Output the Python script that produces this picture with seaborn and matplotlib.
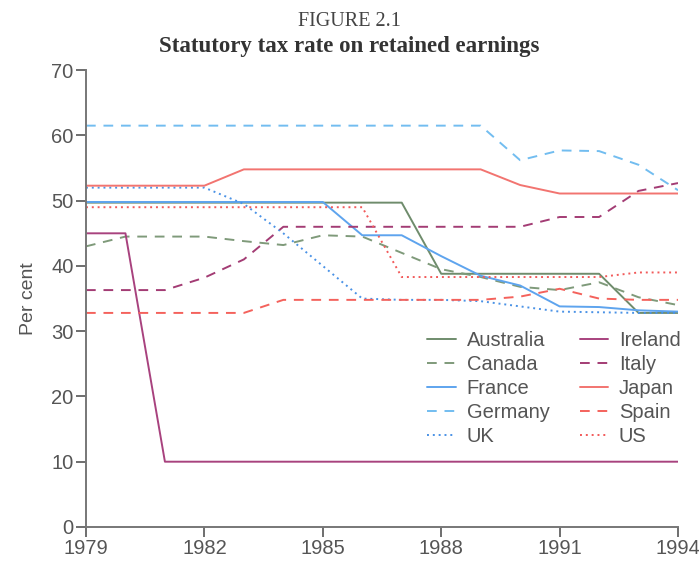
import matplotlib
matplotlib.use('Agg')
import matplotlib.pyplot as plt
import seaborn as sns
import pandas as pd

years = list(range(1979, 1995))

australia = [49.7, 49.7, 49.7, 49.7, 49.7, 49.7, 49.7, 49.7, 49.7, 38.8, 38.8, 38.8, 38.8, 38.8, 32.8, 32.8]
canada = [43.0, 44.5, 44.5, 44.5, 43.8, 43.2, 44.7, 44.5, 42.0, 39.5, 38.3, 36.8, 36.3, 37.5, 35.2, 34.0]
france = [49.8, 49.8, 49.8, 49.8, 49.8, 49.8, 49.8, 44.7, 44.7, 41.5, 38.5, 37.0, 33.8, 33.7, 33.2, 33.0]
germany = [61.5, 61.5, 61.5, 61.5, 61.5, 61.5, 61.5, 61.5, 61.5, 61.5, 61.5, 56.2, 57.7, 57.6, 55.5, 51.6]
uk = [52.0, 52.0, 52.0, 52.0, 49.5, 45.0, 40.0, 35.0, 34.8, 34.8, 34.6, 33.8, 33.0, 32.9, 32.8, 32.8]
ireland = [45.0, 45.0, 10.0, 10.0, 10.0, 10.0, 10.0, 10.0, 10.0, 10.0, 10.0, 10.0, 10.0, 10.0, 10.0, 10.0]
italy = [36.3, 36.3, 36.3, 38.2, 41.0, 46.0, 46.0, 46.0, 46.0, 46.0, 46.0, 46.0, 47.5, 47.5, 51.5, 52.7]
japan = [52.3, 52.3, 52.3, 52.3, 54.8, 54.8, 54.8, 54.8, 54.8, 54.8, 54.8, 52.4, 51.1, 51.1, 51.1, 51.1]
spain = [32.8, 32.8, 32.8, 32.8, 32.8, 34.8, 34.8, 34.8, 34.8, 34.8, 34.8, 35.3, 36.5, 35.0, 34.8, 34.8]
us = [49.0, 49.0, 49.0, 49.0, 49.0, 49.0, 49.0, 49.0, 38.3, 38.3, 38.3, 38.3, 38.3, 38.3, 39.0, 39.0]

countries = ['Australia', 'Canada', 'France', 'Germany', 'UK',
             'Ireland', 'Italy', 'Japan', 'Spain', 'US']
series = [australia, canada, france, germany, uk, ireland, italy, japan, spain, us]

colors = ['#6f8c6c', '#7f9a7a', '#5ea4ee', '#72bdf0', '#4a92e6',
          '#a8427e', '#a33c74', '#f27470', '#f4625c', '#f25a5a']
styles = ['solid', (0, (5, 4)), 'solid', (0, (5, 4)), (0, (1, 2)),
          'solid', (0, (5, 4)), 'solid', (0, (5, 4)), (0, (1, 2))]

df = pd.DataFrame({'year': years * len(countries),
                   'rate': sum(series, []),
                   'country': [c for c in countries for _ in years]})

sns.set_style('ticks')
plt.rcParams['font.family'] = ['Liberation Sans', 'DejaVu Sans']

fig = plt.figure(figsize=(6.99, 5.66), dpi=100)
ax = fig.add_axes([0.123, 0.069, 0.847, 0.807])

for c, col, ls in zip(countries, colors, styles):
    sub = df[df['country'] == c]
    sns.lineplot(data=sub, x='year', y='rate', ax=ax, color=col,
                 linestyle=ls, linewidth=1.4, label=c)

ax.set_xlim(1979, 1994)
ax.set_ylim(0, 70)
ax.set_xticks([1979, 1982, 1985, 1988, 1991, 1994])
ax.set_yticks(range(0, 71, 10))
ax.set_xlabel('')
ax.set_ylabel('Per cent', fontsize=14, color='#555555', labelpad=10)
ax.tick_params(colors='#555555', labelsize=14.5, length=7, width=1.2, direction='out', pad=2)
for s in ['left', 'bottom', 'right', 'top']:
    ax.spines[s].set_color('#777777')
    ax.spines[s].set_linewidth(1.4)
ax.spines['right'].set_visible(False)
ax.spines['top'].set_visible(False)

ax.legend(ncol=2, frameon=False, fontsize=14.5, loc='lower right',
          bbox_to_anchor=(1.025, 0.15), handlelength=1.4, labelspacing=0.25,
          columnspacing=1.5, handletextpad=0.55, labelcolor='#555555',
          borderaxespad=0.2)

fig.text(0.5, 0.962, 'FIGURE 2.1', ha='center', va='center',
         family='Liberation Serif', fontsize=14.5, color='#444444')
fig.text(0.5, 0.918, 'Statutory tax rate on retained earnings', ha='center', va='center',
         family='Liberation Serif', fontsize=16.5, fontweight='bold', color='#333333')

fig.savefig('out.png', dpi=100)
